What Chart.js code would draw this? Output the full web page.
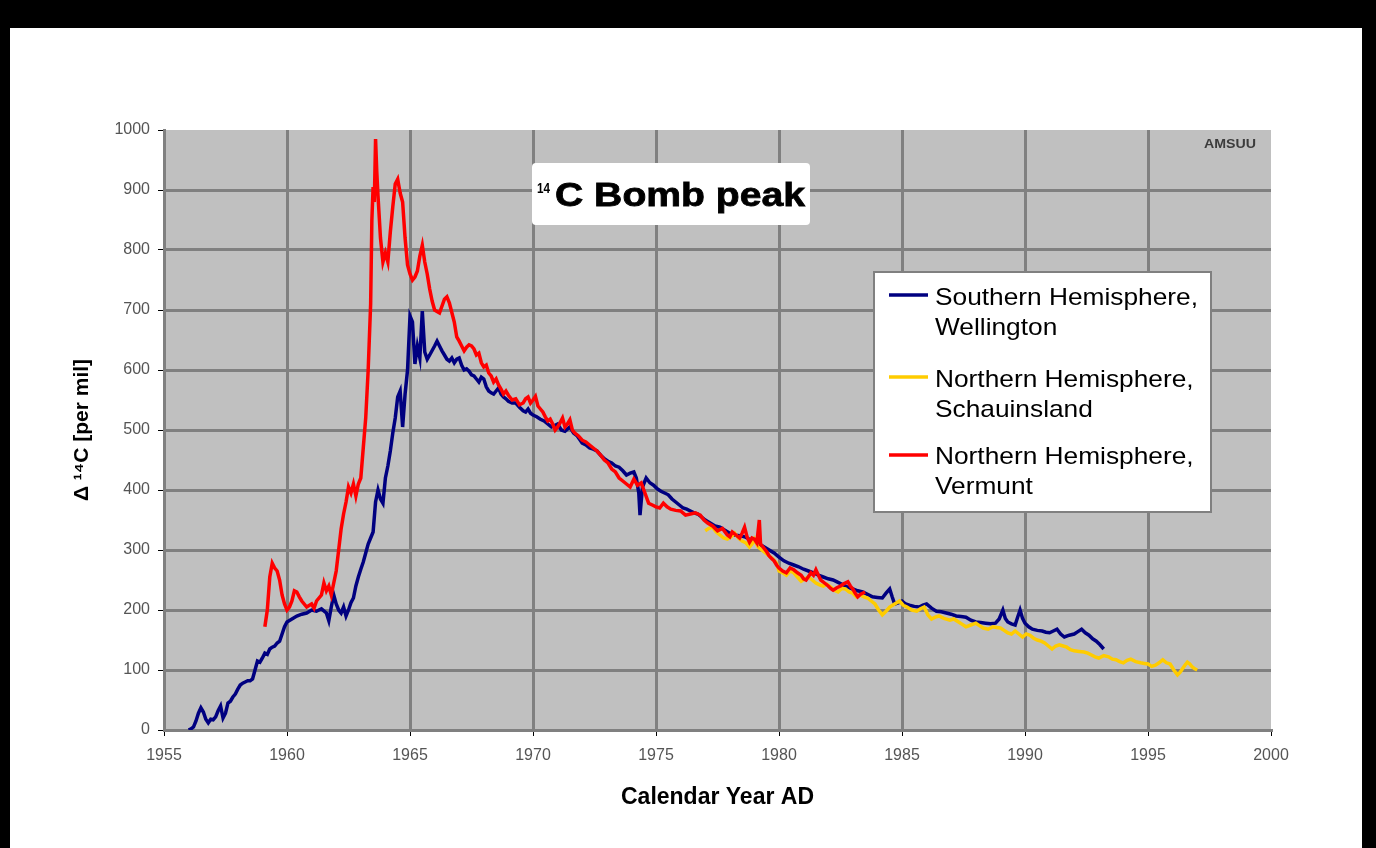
<!DOCTYPE html>
<html>
<head>
<meta charset="utf-8">
<script src="https://cdn.jsdelivr.net/npm/chart.js@4.4.1/dist/chart.umd.min.js"></script>
<style>
  html, body { margin: 0; padding: 0; background: #000; }
  canvas { display: block; }
</style>
</head>
<body>
<canvas id="chart" width="1376" height="848"></canvas>
<script>
/* global Chart */

const FONT = "'Liberation Sans', Arial, Helvetica, sans-serif"

// [year, delta 14C per mil]
const wellington = [
  [1956.0, 0], [1956.1, 2], [1956.2, 5], [1956.3, 15], [1956.4, 28], [1956.5, 37], [1956.6, 30],
  [1956.7, 18], [1956.8, 12], [1956.9, 18], [1957.0, 17], [1957.1, 22], [1957.2, 32], [1957.3, 40],
  [1957.4, 20], [1957.5, 28], [1957.6, 45], [1957.7, 48], [1957.8, 55], [1957.9, 60], [1958.0, 68],
  [1958.1, 75], [1958.2, 78], [1958.3, 80], [1958.4, 82], [1958.5, 82], [1958.6, 85], [1958.7, 100],
  [1958.8, 115], [1958.9, 113], [1959.0, 120], [1959.1, 128], [1959.2, 126], [1959.3, 135],
  [1959.4, 138], [1959.5, 140], [1959.6, 145], [1959.7, 148], [1959.8, 160], [1959.9, 172],
  [1960.0, 180], [1960.2, 185], [1960.4, 190], [1960.6, 193], [1960.8, 195], [1961.0, 200],
  [1961.2, 198], [1961.4, 202], [1961.6, 195], [1961.7, 182], [1961.8, 205], [1961.9, 225],
  [1962.0, 210], [1962.1, 200], [1962.2, 195], [1962.3, 205], [1962.4, 190], [1962.5, 200],
  [1962.6, 212], [1962.7, 220], [1962.8, 240], [1962.9, 255], [1963.0, 268], [1963.1, 280],
  [1963.2, 295], [1963.3, 310], [1963.4, 320], [1963.5, 330], [1963.6, 380], [1963.7, 400],
  [1963.8, 385], [1963.9, 378], [1964.0, 420], [1964.1, 440], [1964.2, 465], [1964.3, 495],
  [1964.4, 520], [1964.5, 555], [1964.6, 565], [1964.7, 505], [1964.8, 560], [1964.9, 600],
  [1965.0, 690], [1965.1, 680], [1965.2, 610], [1965.3, 640], [1965.4, 620], [1965.5, 698],
  [1965.6, 630], [1965.7, 618], [1965.8, 625], [1966.0, 640], [1966.1, 648], [1966.2, 640],
  [1966.3, 632], [1966.4, 625], [1966.5, 618], [1966.6, 615], [1966.7, 620], [1966.8, 612],
  [1966.9, 618], [1967.0, 620], [1967.1, 608], [1967.2, 600], [1967.3, 602], [1967.4, 598],
  [1967.5, 592], [1967.6, 590], [1967.7, 585], [1967.8, 580], [1967.9, 588], [1968.0, 585],
  [1968.1, 572], [1968.2, 565], [1968.3, 562], [1968.4, 560], [1968.5, 565], [1968.6, 570],
  [1968.7, 560], [1968.8, 555], [1968.9, 552], [1969.0, 548], [1969.15, 545], [1969.3, 545],
  [1969.45, 538], [1969.6, 532], [1969.7, 530], [1969.8, 535], [1969.9, 528], [1970.0, 525],
  [1970.15, 522], [1970.3, 518], [1970.45, 515], [1970.6, 510], [1970.75, 505], [1970.9, 508],
  [1971.0, 510], [1971.15, 500], [1971.3, 498], [1971.5, 505], [1971.65, 495], [1971.8, 490],
  [1971.9, 484], [1972.0, 478], [1972.15, 475], [1972.3, 470], [1972.45, 468], [1972.6, 465],
  [1972.75, 458], [1972.9, 452], [1973.05, 448], [1973.2, 445], [1973.35, 440], [1973.5, 438],
  [1973.65, 432], [1973.8, 425], [1973.95, 428], [1974.1, 430], [1974.2, 420], [1974.3, 395],
  [1974.35, 358], [1974.45, 405], [1974.6, 420], [1974.75, 412], [1974.9, 408], [1975.05, 402],
  [1975.2, 398], [1975.35, 395], [1975.5, 392], [1975.65, 385], [1975.8, 380], [1975.95, 375],
  [1976.1, 370], [1976.25, 368], [1976.4, 365], [1976.55, 362], [1976.7, 360], [1976.85, 355],
  [1977.0, 350], [1977.2, 345], [1977.4, 340], [1977.6, 338], [1977.8, 333], [1978.0, 328],
  [1978.2, 325], [1978.4, 324], [1978.6, 322], [1978.8, 318], [1979.0, 315], [1979.2, 310],
  [1979.4, 305], [1979.6, 300], [1979.8, 295], [1980.0, 288], [1980.2, 282], [1980.4, 278],
  [1980.6, 275], [1980.8, 272], [1981.0, 268], [1981.2, 265], [1981.4, 262], [1981.6, 258],
  [1981.8, 255], [1982.0, 252], [1982.2, 250], [1982.4, 246], [1982.6, 242], [1982.8, 238],
  [1983.0, 235], [1983.2, 232], [1983.4, 230], [1983.6, 226], [1983.8, 222], [1984.0, 221],
  [1984.2, 220], [1984.35, 228], [1984.5, 235], [1984.6, 222], [1984.7, 210], [1984.85, 212],
  [1985.0, 215], [1985.15, 210], [1985.3, 208], [1985.5, 206], [1985.7, 205], [1985.85, 208],
  [1986.0, 210], [1986.2, 203], [1986.4, 198], [1986.6, 197], [1986.8, 195], [1987.0, 193],
  [1987.2, 190], [1987.4, 189], [1987.6, 188], [1987.8, 183], [1988.0, 180], [1988.2, 179],
  [1988.4, 178], [1988.6, 177], [1988.8, 178], [1988.95, 185], [1989.1, 200], [1989.2, 186],
  [1989.3, 180], [1989.45, 177], [1989.6, 175], [1989.7, 188], [1989.8, 200], [1989.9, 186],
  [1990.0, 178], [1990.15, 172], [1990.3, 168], [1990.5, 166], [1990.7, 165], [1990.85, 163],
  [1991.0, 162], [1991.15, 165], [1991.3, 168], [1991.45, 160], [1991.6, 155], [1991.8, 158],
  [1992.0, 160], [1992.15, 164], [1992.3, 168], [1992.45, 162], [1992.6, 158], [1992.75, 152],
  [1992.9, 148], [1993.05, 142], [1993.2, 135],
]

const schauinsland = [
  [1977.0, 332], [1977.15, 336], [1977.3, 338], [1977.45, 330], [1977.6, 325], [1977.75, 320],
  [1977.9, 318], [1978.05, 322], [1978.2, 328], [1978.35, 320], [1978.5, 315], [1978.65, 312],
  [1978.8, 305], [1978.9, 310], [1979.0, 318], [1979.15, 305], [1979.3, 300], [1979.45, 295],
  [1979.6, 290], [1979.75, 285], [1979.9, 278], [1980.0, 265], [1980.15, 262], [1980.3, 258],
  [1980.45, 265], [1980.6, 262], [1980.75, 255], [1980.9, 248], [1981.05, 252], [1981.2, 255],
  [1981.35, 250], [1981.5, 245], [1981.65, 242], [1981.8, 240], [1981.95, 243], [1982.1, 238],
  [1982.25, 233], [1982.4, 230], [1982.55, 236], [1982.7, 235], [1982.85, 230], [1983.0, 228],
  [1983.15, 222], [1983.3, 225], [1983.45, 222], [1983.6, 220], [1983.75, 215], [1983.9, 210],
  [1984.05, 200], [1984.2, 192], [1984.35, 198], [1984.5, 205], [1984.7, 210], [1984.9, 215],
  [1985.05, 208], [1985.2, 205], [1985.4, 200], [1985.6, 198], [1985.75, 202], [1985.9, 205],
  [1986.05, 192], [1986.2, 185], [1986.35, 188], [1986.5, 190], [1986.7, 186], [1986.95, 183],
  [1987.1, 185], [1987.3, 180], [1987.45, 176], [1987.6, 172], [1987.8, 175], [1988.0, 178],
  [1988.15, 174], [1988.3, 170], [1988.5, 168], [1988.7, 172], [1988.85, 171], [1989.0, 170],
  [1989.15, 166], [1989.3, 162], [1989.45, 160], [1989.6, 165], [1989.75, 160], [1989.9, 155],
  [1990.05, 160], [1990.2, 158], [1990.35, 153], [1990.5, 150], [1990.65, 148], [1990.8, 145],
  [1990.95, 140], [1991.1, 135], [1991.25, 140], [1991.4, 142], [1991.55, 140], [1991.7, 138],
  [1991.85, 134], [1992.0, 132], [1992.2, 131], [1992.4, 130], [1992.55, 128], [1992.7, 125],
  [1992.85, 122], [1993.0, 120], [1993.2, 124], [1993.4, 122], [1993.55, 118], [1993.7, 117],
  [1993.85, 114], [1994.0, 112], [1994.15, 116], [1994.3, 118], [1994.5, 114], [1994.7, 112],
  [1994.85, 111], [1995.0, 110], [1995.15, 106], [1995.3, 108], [1995.45, 112], [1995.6, 117],
  [1995.75, 112], [1995.9, 110], [1996.05, 100], [1996.2, 92], [1996.3, 96], [1996.4, 102],
  [1996.5, 108], [1996.6, 113], [1996.7, 110], [1996.8, 105], [1996.9, 102], [1997.0, 100],
]

const vermunt = [
  [1959.1, 172], [1959.2, 200], [1959.3, 255], [1959.4, 278], [1959.5, 270], [1959.6, 265],
  [1959.7, 250], [1959.8, 225], [1959.9, 210], [1960.0, 200], [1960.1, 205], [1960.2, 215],
  [1960.3, 232], [1960.4, 230], [1960.5, 222], [1960.6, 215], [1960.8, 205], [1961.0, 210],
  [1961.1, 203], [1961.2, 215], [1961.4, 225], [1961.5, 245], [1961.6, 232], [1961.7, 240],
  [1961.8, 225], [1962.0, 265], [1962.1, 300], [1962.2, 335], [1962.3, 360], [1962.4, 380],
  [1962.5, 405], [1962.6, 395], [1962.7, 410], [1962.8, 390], [1962.9, 410], [1963.0, 420],
  [1963.1, 470], [1963.2, 520], [1963.3, 600], [1963.4, 710], [1963.45, 850], [1963.5, 905],
  [1963.55, 880], [1963.6, 985], [1963.65, 930], [1963.7, 890], [1963.8, 820], [1963.9, 780],
  [1964.0, 795], [1964.1, 780], [1964.2, 830], [1964.3, 872], [1964.4, 910], [1964.5, 918],
  [1964.6, 895], [1964.7, 880], [1964.8, 820], [1964.9, 775], [1965.0, 760], [1965.1, 750],
  [1965.2, 755], [1965.3, 765], [1965.4, 790], [1965.5, 808], [1965.6, 780], [1965.7, 760],
  [1965.8, 735], [1965.9, 715], [1966.0, 700], [1966.2, 695], [1966.4, 718], [1966.5, 722],
  [1966.6, 712], [1966.8, 680], [1966.9, 655], [1967.0, 648], [1967.1, 640], [1967.2, 632],
  [1967.3, 638], [1967.4, 642], [1967.5, 640], [1967.6, 635], [1967.7, 625], [1967.8, 628],
  [1967.9, 612], [1968.0, 605], [1968.1, 608], [1968.2, 595], [1968.3, 590], [1968.4, 580],
  [1968.5, 585], [1968.6, 575], [1968.7, 568], [1968.8, 560], [1968.9, 565], [1969.0, 558],
  [1969.15, 550], [1969.3, 552], [1969.45, 542], [1969.6, 545], [1969.7, 552], [1969.8, 555],
  [1969.9, 545], [1970.0, 550], [1970.1, 556], [1970.2, 540], [1970.3, 535], [1970.4, 530],
  [1970.5, 522], [1970.6, 515], [1970.7, 518], [1970.8, 510], [1970.9, 500], [1971.0, 505],
  [1971.1, 512], [1971.2, 520], [1971.3, 505], [1971.4, 510], [1971.5, 517], [1971.6, 500],
  [1971.7, 495], [1971.85, 490], [1972.0, 483], [1972.15, 480], [1972.3, 475], [1972.45, 470],
  [1972.6, 465], [1972.75, 458], [1972.9, 450], [1973.05, 445], [1973.2, 435], [1973.35, 430],
  [1973.5, 420], [1973.65, 415], [1973.8, 410], [1973.95, 405], [1974.1, 418], [1974.25, 408],
  [1974.4, 412], [1974.55, 395], [1974.7, 378], [1974.85, 375], [1975.0, 372], [1975.15, 370],
  [1975.3, 378], [1975.45, 372], [1975.6, 368], [1975.8, 366], [1976.0, 365], [1976.2, 358],
  [1976.4, 360], [1976.6, 362], [1976.8, 358], [1976.95, 350], [1977.1, 345], [1977.3, 340],
  [1977.5, 332], [1977.7, 336], [1977.9, 325], [1978.0, 322], [1978.1, 330], [1978.25, 325],
  [1978.4, 320], [1978.5, 328], [1978.6, 338], [1978.7, 322], [1978.8, 313], [1978.9, 320],
  [1979.0, 318], [1979.1, 312], [1979.2, 350], [1979.25, 310], [1979.35, 305], [1979.5, 297],
  [1979.6, 290], [1979.7, 286], [1979.8, 282], [1979.9, 275], [1980.0, 270], [1980.15, 265],
  [1980.3, 262], [1980.45, 270], [1980.6, 267], [1980.75, 262], [1980.9, 258], [1981.0, 252],
  [1981.1, 250], [1981.2, 256], [1981.3, 262], [1981.4, 258], [1981.5, 267], [1981.6, 258],
  [1981.7, 250], [1981.85, 245], [1982.0, 240], [1982.1, 236], [1982.2, 233], [1982.35, 237],
  [1982.5, 240], [1982.65, 244], [1982.8, 247], [1982.9, 240], [1983.0, 235], [1983.1, 228],
  [1983.2, 222], [1983.3, 226], [1983.4, 228], [1983.5, 230],
]

const seriesLabels = [
  ['Southern Hemisphere,', 'Wellington'],
  ['Northern Hemisphere,', 'Schauinsland'],
  ['Northern Hemisphere,', 'Vermunt'],
]
const seriesColors = ['#000080', '#FFCC00', '#FF0000']

const toPoints = rows => rows.map(([x, y]) => ({x, y}))

// frame, grey plot area, title box, legend box
const decorations = {
  id: 'decorations',
  beforeDraw(chart) {
    const {ctx, chartArea: a} = chart
    ctx.save()
    ctx.fillStyle = '#000'
    ctx.fillRect(0, 0, chart.width, chart.height)
    ctx.fillStyle = '#fff'
    ctx.fillRect(10, 28, 1352, 820)
    ctx.fillStyle = '#c0c0c0'
    ctx.fillRect(a.left, a.top, a.right - a.left, a.bottom - a.top)
    ctx.restore()
  },
  afterDraw(chart) {
    const {ctx} = chart
    ctx.save()

    // AMSUU stamp
    ctx.fillStyle = '#3c3c3c'
    ctx.font = `bold 12px ${FONT}`
    ctx.textBaseline = 'alphabetic'
    stretched(ctx, 'AMSUU', 1204, 148, 52)

    // title box
    ctx.fillStyle = '#fff'
    ctx.beginPath()
    ctx.roundRect(532, 163, 278, 62, 4)
    ctx.fill()
    ctx.fillStyle = '#000'
    ctx.strokeStyle = '#000'
    ctx.lineWidth = 0.8
    ctx.font = `bold 14px ${FONT}`
    stretched(ctx, '14', 537, 193, 13)
    ctx.font = `bold 34px ${FONT}`
    stretched(ctx, 'C Bomb peak', 555, 206, 250, true)

    // legend box
    ctx.fillStyle = '#fff'
    ctx.fillRect(874, 272, 337, 240)
    ctx.strokeStyle = '#808080'
    ctx.lineWidth = 2
    ctx.strokeRect(874, 272, 337, 240)

    const rows = [[295, 305, 335], [377, 387, 417], [455, 464, 494]]
    ctx.font = `24px ${FONT}`
    const sx = 263 / ctx.measureText(seriesLabels[0][0]).width
    rows.forEach(([lineY, base1, base2], i) => {
      ctx.strokeStyle = seriesColors[i]
      ctx.lineWidth = 3.5
      ctx.beginPath()
      ctx.moveTo(889, lineY)
      ctx.lineTo(928, lineY)
      ctx.stroke()
      ctx.fillStyle = '#000'
      scaledText(ctx, seriesLabels[i][0], 935, base1, sx)
      scaledText(ctx, seriesLabels[i][1], 935, base2, sx)
    })
    ctx.restore()
  },
}

function scaledText(ctx, text, x, y, sx, bolder) {
  ctx.save()
  ctx.translate(x, y)
  ctx.scale(sx, 1)
  ctx.fillText(text, 0, 0)
  if (bolder) ctx.strokeText(text, 0, 0)
  ctx.restore()
}

function stretched(ctx, text, x, y, width, bolder) {
  scaledText(ctx, text, x, y, width / ctx.measureText(text).width, bolder)
}

const gridColor = edge => c => (c.tick && c.tick.value === edge ? 'rgba(0,0,0,0)' : '#808080')

const tickFont = {family: FONT, size: 16}
const titleFont = {family: FONT, size: 22, weight: 'bold'}

const ctx = document.getElementById('chart').getContext('2d')
// eslint-disable-next-line no-unused-vars
const chart = new Chart(ctx, {
  type: 'line',
  data: {
    datasets: [
      {label: seriesLabels[0].join(' '), data: toPoints(wellington), borderColor: seriesColors[0], order: 3},
      {label: seriesLabels[1].join(' '), data: toPoints(schauinsland), borderColor: seriesColors[1], order: 2},
      {label: seriesLabels[2].join(' '), data: toPoints(vermunt), borderColor: seriesColors[2], order: 1},
    ],
  },
  options: {
    responsive: false,
    animation: false,
    datasets: {line: {borderWidth: 3.5, pointRadius: 0, tension: 0, borderJoinStyle: 'miter'}},
    layout: {padding: {left: 40, right: 105, top: 130, bottom: 28}},
    plugins: {legend: {display: false}, tooltip: {enabled: false}},
    scales: {
      x: {
        type: 'linear',
        min: 1955,
        max: 2000,
        afterFit: s => { s.height = 90 },
        ticks: {stepSize: 5, font: tickFont, color: '#555', padding: 10, maxRotation: 0, callback: v => String(v)},
        grid: {color: gridColor(2000), lineWidth: 3, tickColor: '#000', tickWidth: 1, tickLength: 6},
        border: {color: '#808080', width: 3},
        title: {display: true, text: 'Calendar Year AD', font: {...titleFont, size: 23}, color: '#000', padding: {top: 0, bottom: 9}},
      },
      y: {
        min: 0,
        max: 1000,
        afterFit: s => { s.width = 124 },
        ticks: {stepSize: 100, font: tickFont, color: '#555', padding: 8, callback: v => String(v)},
        grid: {color: gridColor(1000), lineWidth: 3, tickColor: '#000', tickWidth: 1, tickLength: 6},
        border: {color: '#808080', width: 3},
        title: {display: true, text: 'Δ ¹⁴C [per mil]', font: {...titleFont, size: 21}, color: '#000', padding: {top: 30, bottom: 0}},
      },
    },
  },
  plugins: [decorations],
})
</script>
</body>
</html>
